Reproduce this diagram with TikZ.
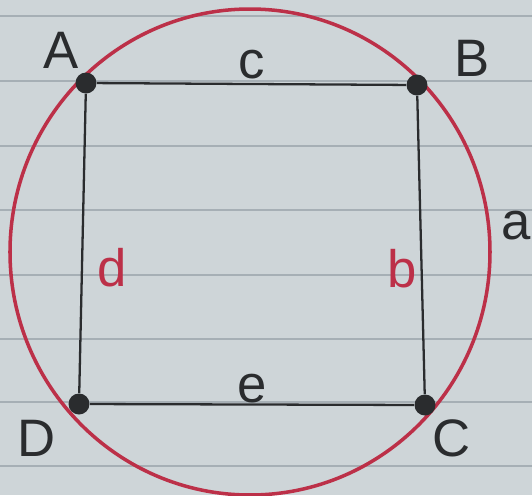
\documentclass[tikz,border=0pt]{standalone}
\usepackage{fontspec}
\setmainfont{Liberation Sans}
\usepackage{xcolor}
\usetikzlibrary{positioning}
\definecolor{PaperGrey}{RGB}{206,213,216}
\definecolor{RuleGrey}{RGB}{166,175,181}
\definecolor{InkRed}{RGB}{188,48,72}
\definecolor{InkBlack}{RGB}{42,44,46}

\begin{document}
\begin{tikzpicture}[
    x=0.02cm, y=-0.02cm,
    vertex/.style={circle, fill=InkBlack, inner sep=0pt, minimum size=0.42cm},
    side/.style={draw=InkBlack, line width=1.3pt},
    letter/.style={font=\fontsize{30}{32}\selectfont, text=InkBlack, inner sep=2pt},
    redletter/.style={letter, text=InkRed}
]
% paper
\fill[PaperGrey] (0,0) rectangle (532,495);
\useasboundingbox (0,0) rectangle (532,495);
\foreach \y in {16,81,146,210,275,339,402,466}
    \draw[RuleGrey, line width=0.8pt] (0,\y) -- (532,\y);

% circumcircle
\coordinate (O) at (250,252);
\draw[InkRed, line width=2pt] (O) ellipse (240 and 243);

% corners
\node[vertex] (A) at (86,83) {};
\node[vertex] (B) at (417,85) {};
\node[vertex] (C) at (425,405) {};
\node[vertex] (D) at (79,404) {};

\node[letter] (labA) at (61,50) {A};
\node[letter] (labB) at (472,58) {B};
\node[letter] (labC) at (452,438) {C};
\node[letter] (labD) at (37,438) {D};

% sides
\draw[side] (A) -- node[letter, above=0pt]{c} (B);
\draw[side] (B) -- node[redletter, pos=0.58, left=0pt]{b} (C);
\draw[side] (C) -- node[letter, above=-2pt]{e} (D);
\draw[side] (D) -- node[redletter, pos=0.42, right=6pt]{d} (A);

\node[letter] (labArc) at (516,226) {a};
\end{tikzpicture}
\end{document}
